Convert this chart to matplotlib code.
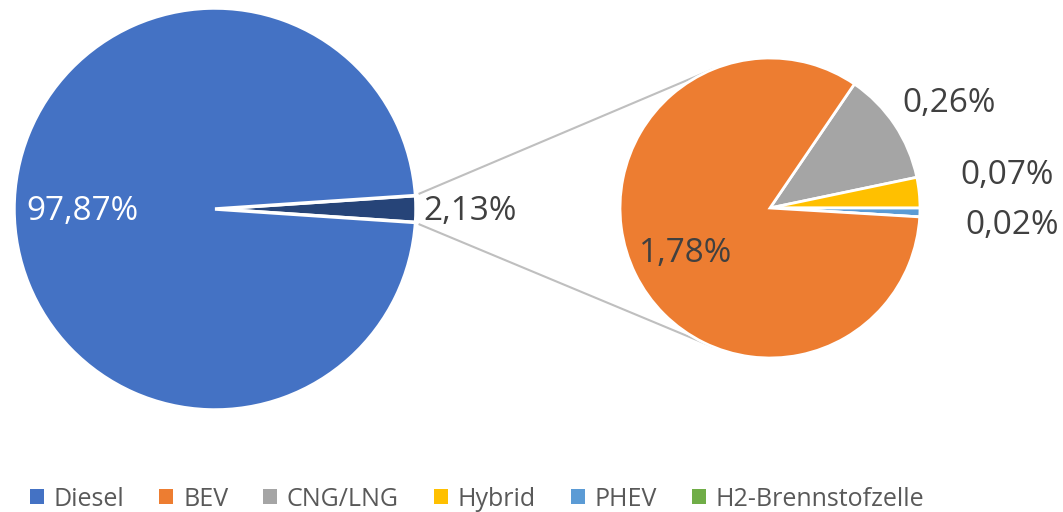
import numpy as np
import matplotlib
matplotlib.use("Agg")
import matplotlib.pyplot as plt
from matplotlib.patches import Patch

# ---- data ----
main_labels = ["Diesel", "Andere"]
main_values = [97.87, 2.13]
main_texts = ["97,87%", "2,13%"]

sub_labels = ["CNG/LNG", "Hybrid", "PHEV", "H2-Brennstofzelle", "BEV"]
sub_values = [0.26, 0.07, 0.02, 0.0, 1.78]
sub_texts = ["0,26%", "0,07%", "0,02%", "", "1,78%"]

legend_labels = ["Diesel", "BEV", "CNG/LNG", "Hybrid", "PHEV", "H2-Brennstofzelle"]
colors = {"Diesel": "#4472C4", "Andere": "#264478", "BEV": "#ED7D31",
          "CNG/LNG": "#A5A5A5", "Hybrid": "#FFC000", "PHEV": "#5B9BD5",
          "H2-Brennstofzelle": "#70AD47"}

plt.rcParams["font.family"] = ["Open Sans", "DejaVu Sans"]

W, H = 1063, 512
fig = plt.figure(figsize=(W / 100, H / 100), dpi=100)
ax = fig.add_axes([0, 0, 1, 1])

# layout (pixel coords, y up)
c1, r1 = (215, H - 209), 201
c2, r2 = (770, H - 208), 150
txt_color = "#404040"
fs = 24

# main pie: "Andere" wedge centred on 0 deg
other_angle = main_values[1] / sum(main_values) * 360
ax.pie(main_values[::-1], colors=[colors[k] for k in main_labels[::-1]],
       startangle=-other_angle / 2, counterclock=True, center=c1, radius=r1,
       wedgeprops=dict(edgecolor="white", linewidth=2.5))

# sub pie
total_sub = sum(sub_values)
small_angle = sum(sub_values[:4]) / total_sub * 360
start = -3.4 + small_angle
ax.pie(sub_values, colors=[colors[k] for k in sub_labels],
       startangle=start, counterclock=False, center=c2, radius=r2,
       wedgeprops=dict(edgecolor="white", linewidth=2))

# connector lines (from wedge tips to tangent points of the sub pie)
for s in (1, -1):
    a = np.deg2rad(s * other_angle / 2)
    px, py = c1[0] + r1 * np.cos(a), c1[1] + r1 * np.sin(a)
    dx, dy = px - c2[0], py - c2[1]
    d = np.hypot(dx, dy)
    base = np.arctan2(dy, dx)
    t = base - s * np.arccos(r2 / d)
    qx, qy = c2[0] + r2 * np.cos(t), c2[1] + r2 * np.sin(t)
    ax.plot([px + 4, qx], [py + s * 2, qy], color="#BFBFBF", lw=1.5, zorder=0)

# labels
ax.text(82, H - 212, main_texts[0], color="white", fontsize=fs, ha="center", va="center")
ax.text(470, H - 212, main_texts[1], color=txt_color, fontsize=fs, ha="center", va="center")
sub_pos = [(949, 104), (1007, 175), (1012, 225), None, (686, 253)]
for t, p in zip(sub_texts, sub_pos):
    if p is not None and t:
        ax.text(p[0], H - p[1], t, color=txt_color, fontsize=fs, ha="center", va="center")

ax.set_xlim(0, W)
ax.set_ylim(0, H)
ax.set_aspect("equal", adjustable="datalim")
ax.axis("off")

handles = [Patch(facecolor=colors[k], edgecolor="none") for k in legend_labels]
fig.legend(handles, legend_labels, loc="center", bbox_to_anchor=(477 / W, 1 - 499 / H),
           ncol=6, frameon=False, fontsize=18, handlelength=0.55, handleheight=0.55,
           handletextpad=0.4, columnspacing=1.4, labelcolor="#595959",
           borderaxespad=0, borderpad=0)

fig.savefig("out.png", dpi=100)
